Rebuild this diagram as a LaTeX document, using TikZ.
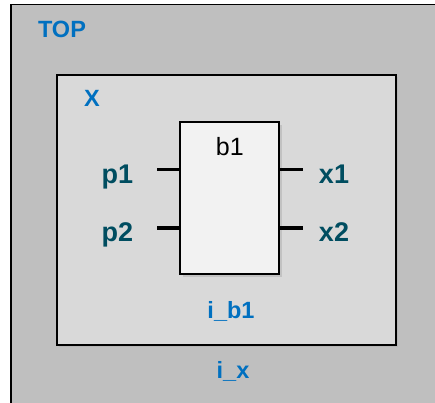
\documentclass[tikz,border=0pt]{standalone}
\usepackage{fontspec}
\setmainfont{Liberation Sans}
\usetikzlibrary{positioning,shadows}
\definecolor{topgray}{RGB}{191,191,191}
\definecolor{subgray}{RGB}{217,217,217}
\definecolor{blkgray}{RGB}{242,242,242}
\definecolor{instblue}{RGB}{0,112,192}
\definecolor{portteal}{RGB}{0,77,96}

\begin{document}
\begin{tikzpicture}[x=1pt, y=-1pt,
    frame/.style={draw=black, line width=1.8pt},
    sub/.style={frame, fill=subgray, drop shadow={opacity=0.15, shadow xshift=1.5pt, shadow yshift=-1.5pt}},
    blk/.style={frame, fill=blkgray, minimum width=99pt, minimum height=152pt, inner sep=0pt,
                drop shadow={opacity=0.25, shadow xshift=2.5pt, shadow yshift=-2.5pt}},
    inst/.style={text=instblue, font=\fontsize{23.5}{27}\selectfont\bfseries, inner sep=0pt, anchor=base},
    port/.style={text=portteal, font=\fontsize{27}{31}\selectfont\bfseries, inner sep=0pt, anchor=base},
    stub/.style={draw=black, line width=3.5pt}]
  \useasboundingbox (0,0) rectangle (435,402);
  \clip (0,0) rectangle (435,402);

  % outer level and the subsystem x
  \draw[frame, fill=topgray] (11,4.5) rectangle (450,420);
  \node[inst] (top) at (62,37.5) {TOP};
  \draw[sub] (57,75) rectangle (396,345);
  \node[inst] (xname) at (92,106) {X};
  \node[inst] (ix) at (233,378.5) {i\_x};

  % the block b1 with its ports
  \node[blk] (b1) at (229.75,198) {};
  \node[anchor=base, font=\fontsize{25}{29}\selectfont, inner sep=0pt] (b1name) at (b1.north |- 0,155) {b1};
  \node[inst] (ib1) at (231,318) {i\_b1};

  \coordinate (p1end) at (157,169.5);
  \coordinate (p2end) at (157,228);
  \coordinate (x1end) at (303,169.5);
  \coordinate (x2end) at (303,228);
  \draw[stub] (p1end) -- (p1end -| b1.west);
  \draw[stub] (p2end) -- (p2end -| b1.west);
  \draw[stub] (b1.east |- x1end) -- (x1end);
  \draw[stub] (b1.east |- x2end) -- (x2end);

  \node[port] (p1) at (117.5,183.5) {p1};
  \node[port] (p2) at (117.5,241.5) {p2};
  \node[port] (x1) at (334,183) {x1};
  \node[port] (x2) at (334,241.5) {x2};
\end{tikzpicture}
\end{document}
